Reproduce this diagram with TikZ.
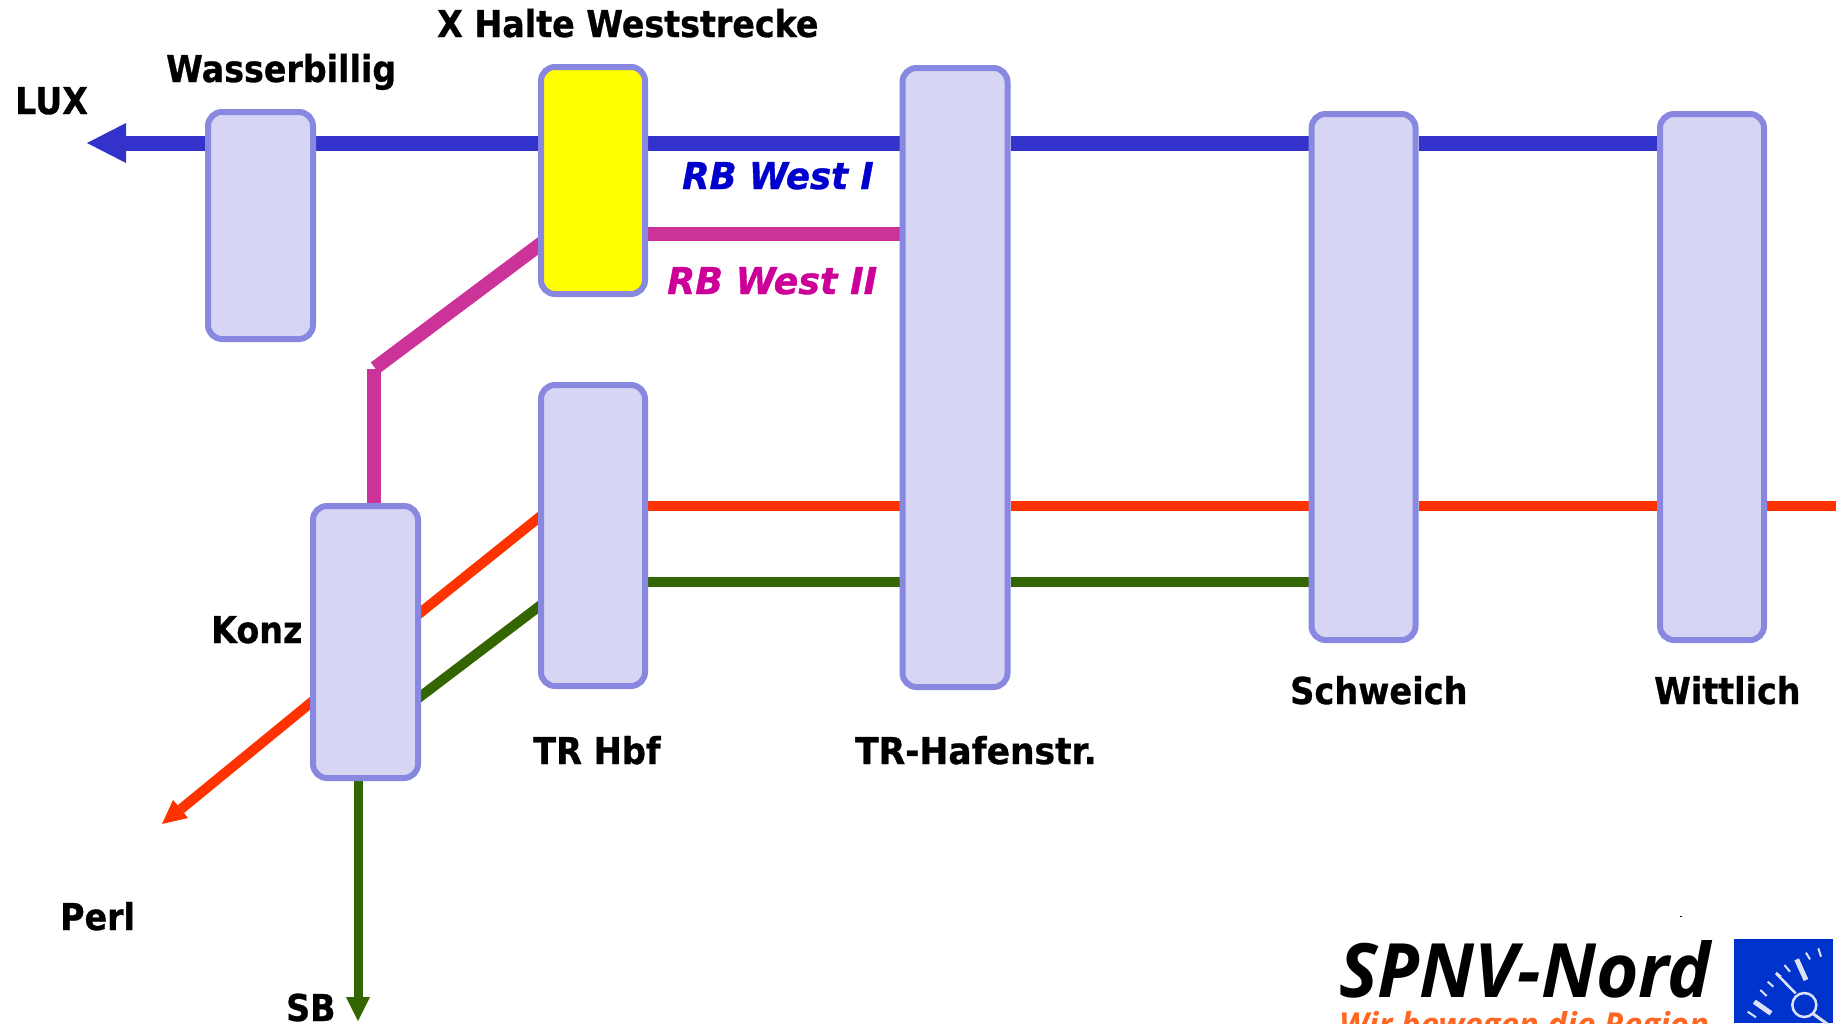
\documentclass[tikz,border=0pt]{standalone}
\usepackage{fontspec}
\setmainfont{DejaVu Sans}[BoldFeatures={FakeBold=0.8},BoldItalicFeatures={FakeBold=1}]
\newfontfamily\logofont{Open Sans}
\usetikzlibrary{backgrounds}
\definecolor{boxline}{HTML}{8888E0}
\definecolor{boxfill}{HTML}{D6D6F4}
\definecolor{lblue}{HTML}{3333CC}
\definecolor{lmag}{HTML}{CC3399}
\definecolor{lred}{HTML}{FF3300}
\definecolor{lgreen}{HTML}{336600}
\definecolor{tblue}{HTML}{0000CC}
\definecolor{tmag}{HTML}{CC0099}
\definecolor{logoblue}{HTML}{0033CC}
\definecolor{logoorange}{HTML}{FF6622}
\definecolor{logoline}{HTML}{DDE3F7}
\definecolor{halt}{HTML}{FFFF00}
\begin{document}
\begin{tikzpicture}[x=1pt,y=-1pt,
  stationbox/.style={draw=boxline,fill=boxfill,line width=6pt,rounded corners=14pt,inner sep=0pt},
  lab/.style={font=\fontsize{37}{37}\selectfont\bfseries,inner sep=0pt,anchor=base west,xscale=0.9,transform shape,text=black},
  rblab/.style={font=\fontsize{37}{37}\selectfont\bfseries\itshape,inner sep=0pt,anchor=base west,transform shape},
  tick/.style={logoline,line width=2pt},
  bar/.style={logoline,line width=5pt}]
\useasboundingbox (0,0) rectangle (1836,1023);
\clip (0,0) rectangle (1836,1023);
\coordinate (bluearrow) at (126,143);
\coordinate (bluetip) at (87,143);
\coordinate (redend) at (1836,505.5);
\coordinate (magknee) at (375,368);
\coordinate (magstart) at (373.5,369);
\coordinate (maginner) at (560,229.5);
\coordinate (redA) at (560,500.6);
\coordinate (redB) at (400,629);
\coordinate (redC) at (330,687);
\coordinate (greenA) at (560,590.5);
\coordinate (greenB) at (400,712);
\coordinate (perlbase) at (181,809);
\coordinate (perltip) at (162,824);
\coordinate (sbbase) at (358,997);
\coordinate (sbtip) at (358,1021);
% stations
\node[stationbox,minimum width=105pt,minimum height=227pt] (wb) at (260.5,225.5) {};
\node[stationbox,fill=halt,minimum width=104pt,minimum height=227pt] (xh) at (593,180.5) {};
\node[stationbox,minimum width=104pt,minimum height=301pt] (hbf) at (593,535.5) {};
\node[stationbox,minimum width=105pt,minimum height=619pt] (hafen) at (955,377.5) {};
\node[stationbox,minimum width=104pt,minimum height=526pt] (schw) at (1363.5,377) {};
\node[stationbox,minimum width=104pt,minimum height=526pt] (witt) at (1712,377) {};
\node[stationbox,minimum width=105pt,minimum height=272pt] (konz) at (365.5,642) {};
% lines
\begin{scope}[on background layer]
\draw[lblue,line width=15pt] (bluearrow) -- (wb.west |- bluearrow) (wb.east |- bluearrow) -- (xh.west |- bluearrow) (xh.east |- bluearrow) -- (hafen.west |- bluearrow) (hafen.east |- bluearrow) -- (schw.west |- bluearrow) (schw.east |- bluearrow) -- (witt.west |- bluearrow);
\fill[lblue] (bluetip) -- (126,123) -- (126,163) -- cycle;
\draw[lmag,line width=14pt] (xh.east |- 0,234) -- (hafen.west |- 0,234);
\draw[lmag,line width=14pt] (maginner) -- (magknee);
\draw[lmag,line width=14pt] (magstart) -- (magstart |- konz.north);
\draw[lred,line width=10pt] (hbf.east |- 0,505.5) -- (hafen.west |- 0,505.5) (hafen.east |- 0,505.5) -- (schw.west |- 0,505.5) (schw.east |- 0,505.5) -- (witt.west |- 0,505.5) (witt.east |- 0,505.5) -- (redend);
\draw[lred,line width=10pt] (redA) -- (redB);
\draw[lred,line width=10pt] (redC) -- (perlbase);
\fill[lred] (perltip) -- (173,800) -- (181,809) -- (188,818) -- cycle;
\draw[lgreen,line width=10pt] (hbf.east |- 0,581.5) -- (hafen.west |- 0,581.5) (hafen.east |- 0,581.5) -- (schw.west |- 0,581.5);
\draw[lgreen,line width=10pt] (greenA) -- (greenB);
\draw[lgreen,line width=9pt] (sbbase |- konz.south) -- (sbbase);
\fill[lgreen] (sbtip) -- (346,997) -- (370,997) -- cycle;
\end{scope}
% labels
\node[lab] (t1) at (437,37) {X Halte Weststrecke};
\node[lab] (t2) at (166,82) {Wasserbillig};
\node[lab] (t3) at (15,114) {LUX};
\node[lab] (t4) at (211,643) {Konz};
\node[lab,xscale=1.01] (t5) at (533,764) {TR Hbf};
\node[lab,xscale=1.035] (t6) at (855,764) {TR-Hafenstr.};
\node[lab,xscale=1.01] (t7) at (1290,704) {Schweich};
\node[lab] (t8) at (1654,704) {Wittlich};
\node[lab] (t9) at (60,930) {Perl};
\node[lab] (t10) at (286,1021) {SB};
\node[rblab,text=tblue,xscale=0.96] (r1) at (682,189) {RB West I};
\node[rblab,text=tmag,xscale=0.985] (r2) at (667,294) {RB West II};
% logo
\node[font=\logofont\fontsize{75}{75}\selectfont\bfseries\itshape,inner sep=0pt,anchor=base west,xscale=0.97,transform shape] (logo) at (1339,997) {SPNV-Nord};
\node[font=\logofont\fontsize{33}{33}\selectfont\bfseries\itshape,inner sep=0pt,anchor=base west,text=logoorange] (logo2) at (1339,1036) {Wir bewegen die Region};
\fill[black] (1680,915.5) rectangle (1682,916.5);
\fill[logoblue] (1734,939) rectangle (1833,1023);
\begin{scope}[shift={(1726,930)},x=0.3333pt,y=-0.3333pt]
\draw[logoline,line width=2.5pt] (235,225) circle[radius=36pt*0.3333];
\draw[logoline,line width=2.5pt] (150,130) -- (209,190);
\draw[logoline,line width=3pt] (262,252) -- (315,290);
\draw[bar] (212,88) -- (240,150);
\draw[bar] (85,215) -- (135,250);
\draw[tick] (240,68) -- (252,88);
\draw[tick] (277,55) -- (285,80);
\draw[tick] (175,105) -- (192,125);
\draw[tick] (150,128) -- (165,140);
\draw[tick] (125,155) -- (142,170);
\draw[tick] (103,180) -- (122,198);
\draw[tick] (65,245) -- (90,262);
\end{scope}
\end{tikzpicture}
\end{document}
